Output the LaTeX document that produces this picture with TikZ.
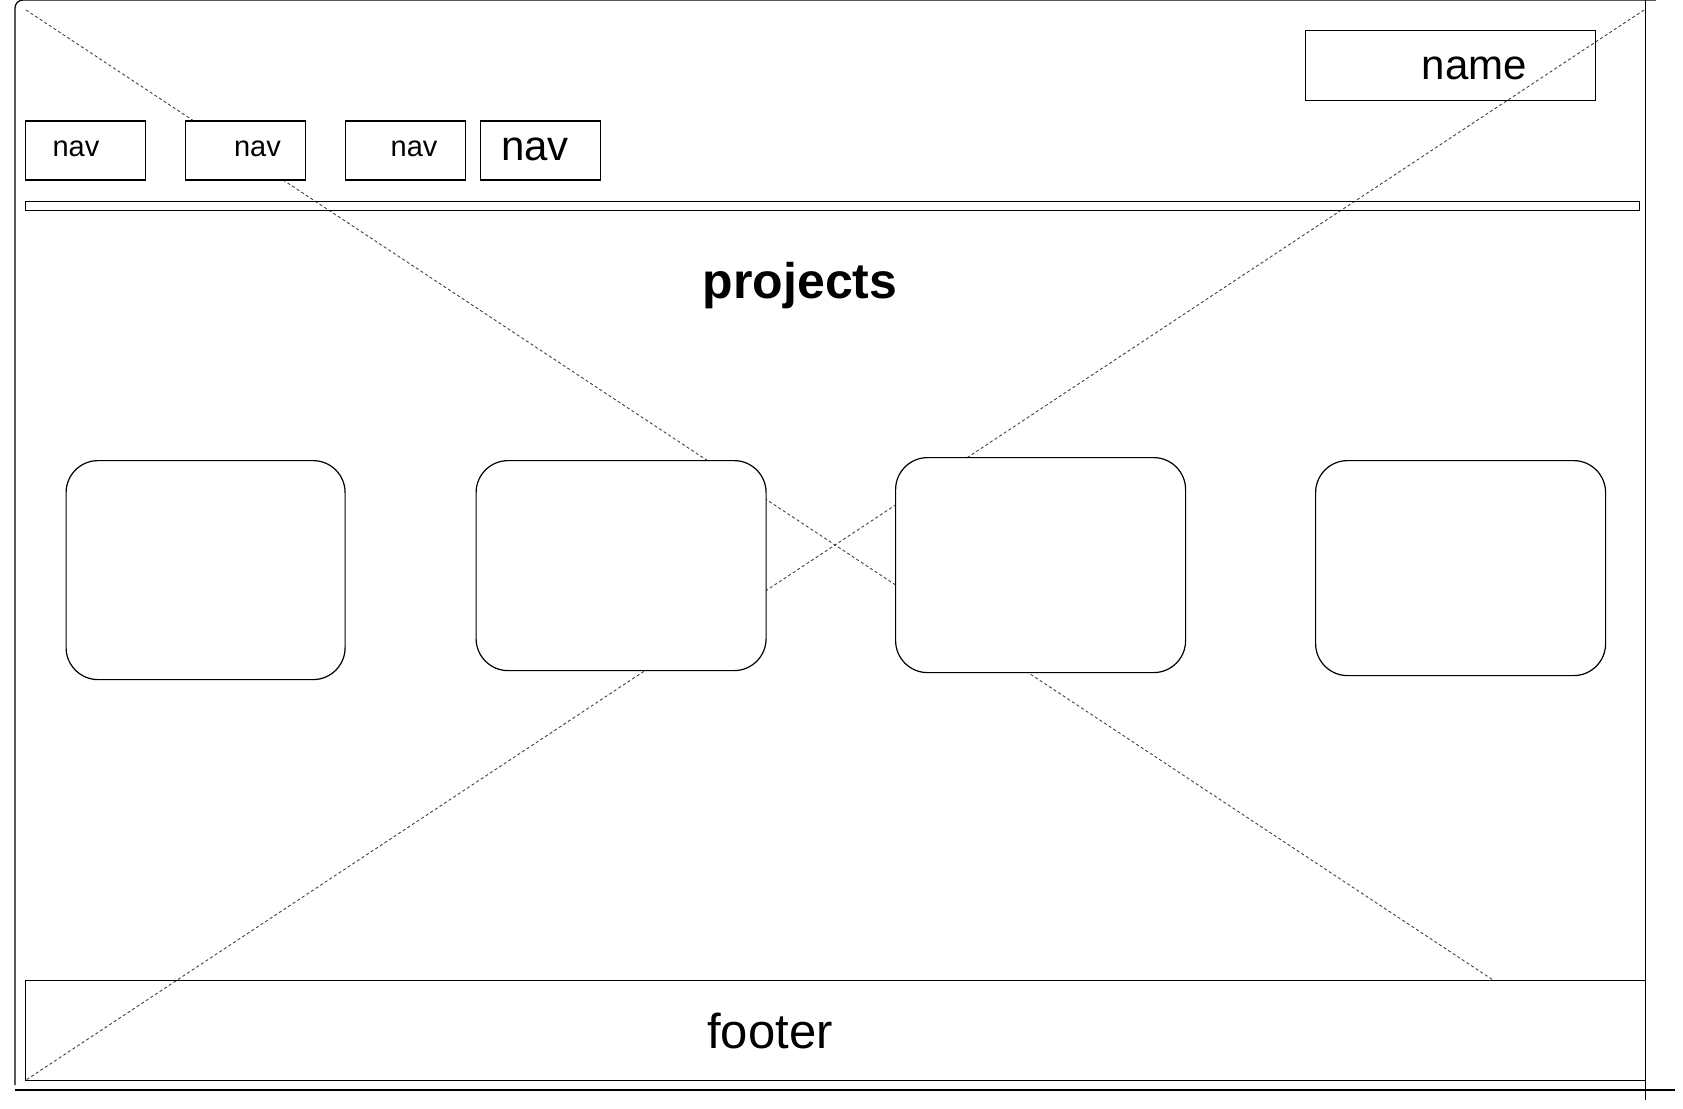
\documentclass[tikz,border=0pt]{standalone}
\usepackage{fontspec}
\setmainfont{Liberation Sans}
\usetikzlibrary{positioning}

\begin{document}
\begin{tikzpicture}[x=1pt, y=-1pt, line width=1.2pt,
  navbox/.style={draw, fill=white, rectangle, minimum width=120pt, minimum height=59pt, inner sep=0pt, outer sep=0pt, anchor=north west},
  cardbox/.style={draw, fill=white, rectangle, rounded corners=32pt, inner sep=0pt, anchor=north west},
  plainbox/.style={draw, rectangle, inner sep=0pt, anchor=north west},
  crossline/.style={draw=black!75, line width=0.9pt, dash pattern=on 3pt off 2.5pt},
  smalltext/.style={inner sep=0pt, font=\fontsize{29}{35}\selectfont},
  bigtext/.style={inner sep=0pt, font=\fontsize{42}{50}\selectfont}]
 \useasboundingbox (0,0) rectangle (1683,1108);

 % page frame
 \draw[rounded corners=8pt] (15,1085) -- (15,0) -- (1656,0);
 \draw (1645.5,0) -- (1645.5,1100);
 \draw (15,1090) -- (1675,1090);

 % placeholder cross
 \coordinate (crossNW) at (26,10);
 \coordinate (crossSE) at (1493,980);
 \coordinate (crossNE) at (1644,10);
 \coordinate (crossSW) at (26,1080);
 \draw[crossline] (crossNW) -- (crossSE);
 \draw[crossline] (crossNE) -- (crossSW);

 % header
 \node[plainbox, minimum width=290pt, minimum height=70pt] (namebox) at (1305,30) {};
 \node[bigtext] (nametext) at (1474.5,68) {name};
 \node[navbox] (nav1) at (25.5,121) {};
 \node[navbox, right=40pt of nav1] (nav2) {};
 \node[navbox, right=40pt of nav2] (nav3) {};
 \node[navbox, right=15pt of nav3] (nav4) {};
 \node[smalltext] (navtext1) at (76,149) {nav};
 \node[smalltext] (navtext2) at (257.5,149) {nav};
 \node[smalltext] (navtext3) at (414,149) {nav};
 \node[bigtext] (navtext4) at (535,149) {nav};
 \node[plainbox, minimum width=1614pt, minimum height=8.5pt] (rule) at (25,201) {};

 % projects
 \node[inner sep=0pt, font=\fontsize{50}{60}\selectfont\bfseries] (projects) at (800,286) {projects};
 \node[cardbox, minimum width=279pt, minimum height=219pt] (card1) at (65.5,460) {};
 \node[cardbox, minimum width=290pt, minimum height=210pt] (card2) at (475.5,460) {};
 \node[cardbox, minimum width=290pt, minimum height=215pt] (card3) at (895,457) {};
 \node[cardbox, minimum width=290pt, minimum height=215pt] (card4) at (1315,460) {};

 % footer
 \node[plainbox, minimum width=1620pt, minimum height=100pt] (footer) at (25,980) {};
 \node[inner sep=0pt, font=\fontsize{49}{59}\selectfont] (footertext) at (770,1031) {footer};
\end{tikzpicture}
\end{document}
